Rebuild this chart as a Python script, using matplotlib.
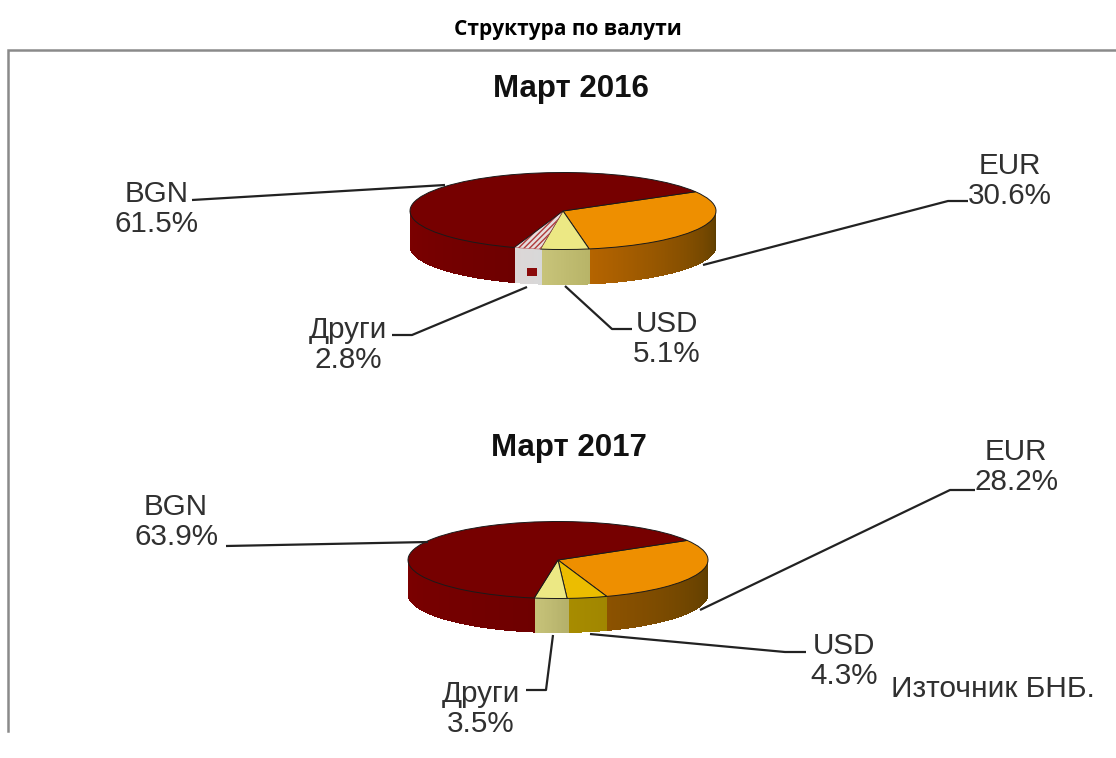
import numpy as np
import matplotlib
matplotlib.use("Agg")
import matplotlib.pyplot as plt
from matplotlib.colors import to_rgb
from matplotlib.patches import Rectangle

W, H = 1116, 758

# clockwise from the back right edge: EUR, USD, Други, BGN
names = ["EUR", "USD", "Други", "BGN"]
values_2016 = [30.6, 5.1, 2.8, 61.5]
values_2017 = [28.2, 4.3, 3.5, 63.9]
titles = ["Март 2016", "Март 2017"]

ORANGE = "#ee8f00"
DARKRED = "#760000"
PALE = "#ece884"
GOLD = "#ecbd00"

fig = plt.figure(figsize=(W / 100, H / 100), dpi=100)
plt.rcParams["font.family"] = ["Liberation Sans", "DejaVu Sans"]

# full figure layer in pixels for the frame, texts and leader lines
over = fig.add_axes([0, 0, 1, 1], zorder=5)
over.set_xlim(0, W)
over.set_ylim(H, 0)
over.axis("off")


def mix(c1, c2, f):
    a, b = np.array(to_rgb(c1)), np.array(to_rgb(c2))
    return tuple(a + (b - a) * f)


def draw_pie(values, colors, walls, cx, cy, a, b, depth, start):
    ax = fig.add_axes([(cx - a) / W, 1 - (cy + b) / H, 2 * a / W, 2 * b / H])
    wedges, _ = ax.pie(values, colors=colors, startangle=start, counterclock=False,
                       wedgeprops={"edgecolor": "#1a1a1a", "linewidth": 0.7, "zorder": 3})
    ax.set_aspect("auto")
    ax.set_xlim(-1, 1)
    ax.set_ylim(-1, 1)
    d = depth / b
    # side wall, thin strips so the shading runs along the rim
    for w, (c1, c2) in zip(wedges, walls):
        angs = np.arange(w.theta1, w.theta2 + 0.5, 0.5)
        angs = angs[(angs % 360) >= 180]
        if len(angs) < 2:
            continue
        for i in range(len(angs) - 1):
            t = np.radians(angs[i:i + 2])
            x = np.cos(t)
            y = np.sin(t)
            col = mix(c1, c2, i / (len(angs) - 1))
            ax.fill([x[0], x[1], x[1], x[0]], [y[0], y[1], y[1] - d, y[0] - d],
                    color=col, lw=0, antialiased=False, clip_on=False, zorder=1)
    return ax, wedges


ax1, w1 = draw_pie(values_2016, [ORANGE, PALE, "#e6dede", DARKRED],
                   [("#b56400", "#5c3d00"), ("#c8c47a", "#b8b468"),
                    ("#dcd6d6", "#d8d8d8"), ("#7c0000", "#6e0000")],
                   563, 211, 153, 38.5, 35, 30)
w1[2].set_hatch("//////")
w1[2].set_edgecolor("#b03a3a")
w1[2].set_linewidth(0.3)
ax2, w2 = draw_pie(values_2017, [ORANGE, GOLD, PALE, DARKRED],
                   [("#8c5200", "#5c3d00"), ("#a88c00", "#a08600"),
                    ("#c8c47a", "#b4b06a"), ("#7c0000", "#6e0000")],
                   558, 560, 150, 38.5, 34, 30.6)

# pattern spot on the hatched wall of the first pie
over.add_patch(Rectangle((527, 268), 10, 8, color="#8a0a0a", lw=0))

# frame, open on the right
over.plot([1116, 8, 8], [50, 50, 731], color="#8a8a8a", lw=1.8, solid_joinstyle="miter")

over.text(568, 30, "Структура по валути", family="Open Sans", weight="bold", fontsize=15,
          ha="center", va="center", color="black")
over.text(571, 89, titles[0], weight="bold", fontsize=22.5, ha="center", va="center", color="#111111")
over.text(569, 448, titles[1], weight="bold", fontsize=22.5, ha="center", va="center", color="#111111")


def label(x, y, name, val, leader):
    over.text(x, y + 3, f"{name}\n{val}%", fontsize=21.3, color="#303030", ha="center", va="center",
              linespacing=1.12)
    over.plot(*zip(*leader), color="#222222", lw=1.6, solid_capstyle="butt")


label(157, 206, names[3], values_2016[3], [(192, 200), (445, 185)])
label(1010, 178, names[0], values_2016[0], [(968, 201), (948, 201), (703, 265)])
label(348, 342, names[2], values_2016[2], [(392, 335), (412, 335), (527, 287)])
label(667, 336, names[1], values_2016[1], [(632, 329), (612, 329), (565, 286)])

label(176, 519, names[3], values_2017[3], [(226, 546), (428, 542)])
label(1016, 464, names[0], values_2017[0], [(975, 490), (950, 490), (700, 610)])
label(844, 658, names[1], values_2017[1], [(806, 652), (785, 652), (590, 634)])
label(481, 706, names[2], values_2017[2], [(526, 690), (546, 690), (553, 635)])

over.text(993, 689, "Източник БНБ.", fontsize=21.5, color="#303030", ha="center", va="center")

fig.savefig("out.png", dpi=100)
